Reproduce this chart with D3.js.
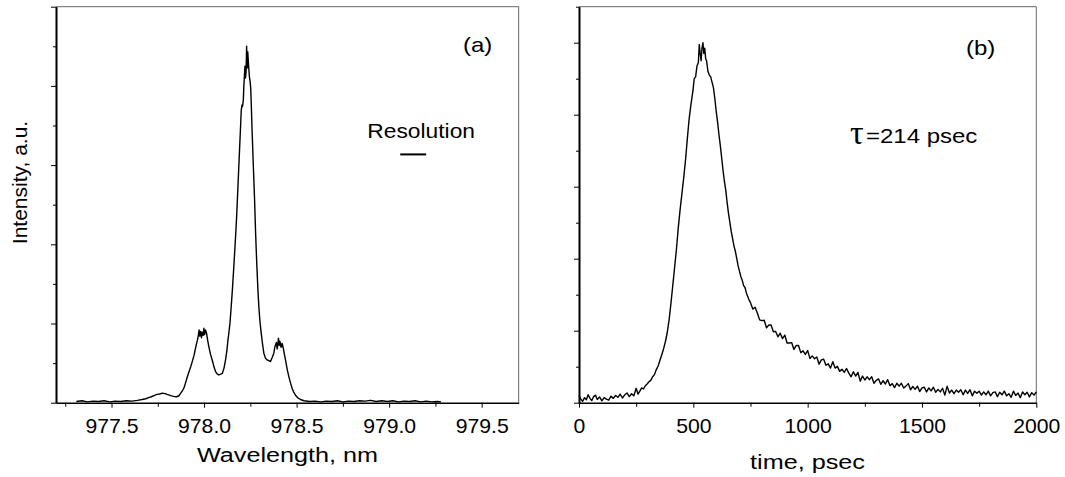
<!DOCTYPE html>
<meta charset="utf-8">
<style>
body { margin: 0; background: #fff; }
svg { display: block; font-family: "Liberation Sans", Arial, sans-serif; }
.trace { fill: none; stroke: #000; stroke-width: 1.4px; stroke-linejoin: round; }
.axis path, .axis line { stroke: #000; }
.axis path { stroke-width: 1.6px; }
.frame { stroke: #666; stroke-width: 1px; }
</style>
<svg width="1065" height="477"></svg>
<script src="https://d3js.org/d3.v7.min.js"></script>
<script>

// (a) spectrum: wavelength (nm), intensity (a.u.)
var spectrum = [
  [977.31,0.03],[977.34,0.05],[977.37,0.02],[977.40,0.04],[977.43,0.03],[977.46,0.05],[977.49,0.02],
  [977.52,0.04],[977.55,0.03],[977.58,0.05],[977.61,0.04],[977.64,0.06],[977.665,0.08],[977.685,0.10],
  [977.70,0.13],[977.715,0.15],[977.73,0.18],[977.745,0.21],[977.76,0.22],[977.775,0.24],[977.79,0.23],
  [977.80,0.21],[977.82,0.18],[977.835,0.16],[977.85,0.15],[977.863,0.17],[977.874,0.24],[977.885,0.32],
  [977.892,0.38],[977.90,0.50],[977.91,0.66],[977.92,0.80],[977.928,0.91],[977.937,1.05],[977.946,1.20],
  [977.955,1.40],[977.964,1.58],[977.970,1.72],[977.973,1.84],[977.977,1.68],[977.982,1.80],[977.986,1.64],
  [977.990,1.78],[977.995,1.70],[977.999,1.88],[978.003,1.72],[978.008,1.84],[978.014,1.74],[978.020,1.56],
  [978.026,1.41],[978.035,1.22],[978.045,1.06],[978.055,0.88],[978.063,0.78],[978.072,0.72],[978.080,0.70],
  [978.090,0.72],[978.099,0.74],[978.108,0.88],[978.116,1.08],[978.123,1.30],[978.129,1.58],[978.135,1.80],
  [978.140,2.01],[978.147,2.45],[978.153,2.85],[978.159,3.30],[978.165,3.77],[978.171,4.25],[978.176,4.70],
  [978.183,5.45],[978.189,6.10],[978.194,6.63],[978.198,7.05],[978.201,7.39],[978.205,7.52],[978.208,7.48],
  [978.212,7.64],[978.215,8.00],[978.218,8.25],[978.221,8.50],[978.224,8.20],[978.227,8.35],[978.230,9.00],
  [978.233,8.45],[978.236,8.86],[978.240,8.55],[978.245,8.23],[978.249,8.10],[978.252,7.95],[978.256,7.40],
  [978.260,6.80],[978.266,6.00],[978.273,5.12],[978.278,4.35],[978.284,3.60],[978.290,2.95],[978.296,2.42],
  [978.302,2.05],[978.309,1.75],[978.316,1.48],[978.323,1.25],[978.332,1.12],[978.341,1.08],[978.350,1.06],
  [978.359,1.04],[978.368,1.14],[978.377,1.25],[978.382,1.40],[978.386,1.46],[978.391,1.52],[978.395,1.36],
  [978.398,1.45],[978.402,1.63],[978.406,1.45],[978.410,1.55],[978.416,1.40],[978.422,1.50],[978.428,1.38],
  [978.434,1.22],[978.440,1.08],[978.449,0.85],[978.458,0.66],[978.467,0.50],[978.476,0.36],[978.485,0.26],
  [978.494,0.19],[978.505,0.13],[978.521,0.08],[978.54,0.05],[978.57,0.03],[978.60,0.04],[978.63,0.02],
  [978.66,0.04],[978.69,0.03],[978.72,0.05],[978.75,0.02],[978.78,0.04],[978.81,0.03],[978.84,0.05],
  [978.87,0.04],[978.90,0.06],[978.93,0.03],[978.96,0.05],[978.99,0.03],[979.02,0.05],[979.05,0.02],
  [979.08,0.04],[979.11,0.03],[979.14,0.05],[979.17,0.02],[979.20,0.04],[979.23,0.02],[979.26,0.03],
  [979.28,0.02]
];

// (b) time trace: time (psec), intensity (a.u.)
var decay = [
  [0,0.20],[8,0.10],[16,0.04],[24,0.14],[32,0.08],[40,0.22],[48,0.12],[56,0.06],[64,0.17],[72,0.21],
  [80,0.09],[90,0.16],[100,0.05],[110,0.14],[120,0.10],[130,0.07],[140,0.18],[150,0.12],[160,0.20],
  [170,0.15],[180,0.24],[190,0.13],[200,0.22],[210,0.27],[220,0.17],[230,0.25],[240,0.19],[250,0.40],
  [258,0.24],[266,0.32],[274,0.41],[282,0.38],[290,0.47],[298,0.52],[306,0.58],[314,0.62],[322,0.72],
  [330,0.78],[338,0.92],[346,1.02],[354,1.18],[362,1.33],[370,1.50],[378,1.70],[386,1.95],[394,2.30],
  [402,2.75],[410,3.25],[418,3.75],[426,4.25],[434,4.85],[442,5.35],[450,5.80],[458,6.25],[466,6.75],
  [474,7.35],[482,7.90],[490,8.30],[498,8.65],[504,9.00],[510,9.05],[516,9.35],[522,9.45],[526,9.95],
  [530,9.70],[534,9.50],[538,9.85],[542,10.0],[546,9.70],[550,9.85],[554,9.55],[558,9.50],[564,9.20],
  [570,9.10],[576,9.05],[582,8.90],[588,8.75],[594,8.45],[600,8.10],[606,7.80],[612,7.45],[618,7.15],
  [624,6.80],[630,6.45],[636,6.15],[642,5.90],[648,5.55],[654,5.25],[660,5.00],[666,4.75],[672,4.55],
  [678,4.35],[684,4.20],[690,4.00],[696,3.80],[702,3.65],[708,3.50],[714,3.40],[720,3.25],[726,3.20],
  [732,3.05],[738,2.95],[744,2.85],[750,2.78],[760,2.60],[770,2.65],[780,2.49],[790,2.30],[800,2.28],
  [810,2.29],[820,2.08],[830,2.16],[840,2.16],[850,1.97],[860,1.98],[870,1.83],[880,1.93],[890,1.78],
  [900,1.88],[910,1.66],[920,1.66],[930,1.67],[940,1.48],[950,1.59],[960,1.59],[970,1.39],[980,1.44],
  [990,1.34],[1000,1.45],[1010,1.23],[1020,1.30],[1030,1.22],[1040,1.27],[1050,1.07],[1060,1.19],
  [1070,1.21],[1080,1.04],[1090,1.08],[1100,0.96],[1110,1.14],[1120,0.96],[1130,1.01],[1140,0.87],
  [1150,0.93],[1160,0.84],[1170,0.95],[1180,0.82],[1190,0.72],[1200,0.86],[1210,0.74],[1220,0.84],
  [1230,0.60],[1240,0.74],[1250,0.63],[1260,0.72],[1270,0.64],[1280,0.72],[1290,0.54],[1300,0.62],
  [1310,0.66],[1320,0.51],[1330,0.61],[1340,0.52],[1350,0.64],[1360,0.47],[1370,0.53],[1380,0.42],
  [1390,0.54],[1400,0.46],[1410,0.54],[1420,0.41],[1430,0.46],[1440,0.53],[1450,0.36],[1460,0.45],
  [1470,0.37],[1480,0.46],[1490,0.31],[1500,0.41],[1510,0.43],[1520,0.30],[1530,0.41],[1540,0.33],
  [1550,0.43],[1560,0.29],[1570,0.37],[1580,0.30],[1590,0.40],[1600,0.21],[1610,0.46],[1620,0.27],
  [1630,0.35],[1640,0.25],[1650,0.35],[1660,0.29],[1670,0.36],[1680,0.22],[1690,0.35],[1700,0.26],
  [1710,0.36],[1720,0.19],[1730,0.32],[1740,0.26],[1750,0.32],[1760,0.21],[1770,0.30],[1780,0.22],
  [1790,0.32],[1800,0.19],[1810,0.28],[1820,0.30],[1830,0.17],[1840,0.29],[1850,0.22],[1860,0.32],
  [1870,0.19],[1880,0.25],[1890,0.15],[1900,0.32],[1910,0.20],[1920,0.27],[1930,0.14],[1940,0.30],
  [1950,0.22],[1960,0.29],[1970,0.16],[1980,0.28],[1990,0.21],[2000,0.30]
];

var wlTicks = [977.5, 978.0, 978.5, 979.0, 979.5];
var wlMinor = [977.25, 977.75, 978.25, 978.75, 979.25];
var tTicks = [0, 500, 1000, 1500, 2000];
var tMinor = [250, 750, 1250, 1750];
var resolutionBar = [979.06, 979.20];   // wavelength span of the resolution marker
var resolutionLevel = 6.27;

var svg = d3.select("svg");
var plotTop = 6.7, plotBottom = 402.7;

// stretched text, like the original figure
function label(x, y, txt, size, anchor, sx) {
  return svg.append("text")
      .attr("transform", "translate(" + x + "," + y + ") scale(" + sx + ",1)")
      .attr("text-anchor", anchor)
      .style("font-size", size + "px")
      .attr("fill", "#000")
      .text(txt);
}

function panel(left, right, xDomain, yMax, data, majors, minors, fmt) {
  var x = d3.scaleLinear().domain(xDomain).range([left, right]),
      y = d3.scaleLinear().domain([0, yMax]).range([plotBottom, plotTop]);

  // thin top/right frame
  svg.append("line").attr("class", "frame")
      .attr("x1", left).attr("x2", right).attr("y1", plotTop).attr("y2", plotTop);
  svg.append("line").attr("class", "frame")
      .attr("x1", right).attr("x2", right).attr("y1", plotTop).attr("y2", plotBottom);

  var ax = svg.append("g").attr("class", "axis")
      .attr("transform", "translate(0," + plotBottom + ")")
      .call(d3.axisBottom(x).tickValues(majors).tickSize(5).tickSizeOuter(0).tickFormat(fmt));
  ax.selectAll("text")
      .attr("y", 30.5).attr("dy", 0)
      .attr("transform", "scale(1.06,1)")
      .style("font-size", "20px").style("font-family", "Liberation Sans, Arial, sans-serif");
  svg.append("g").attr("class", "axis")
      .attr("transform", "translate(0," + plotBottom + ")")
      .call(d3.axisBottom(x).tickValues(minors).tickSize(4).tickSizeOuter(0).tickFormat(""))
      .select(".domain").remove();

  var yTicks = d3.range(0, yMax + 1);
  svg.append("g").attr("class", "axis")
      .attr("transform", "translate(" + left + ",0)")
      .call(d3.axisLeft(y).tickValues(yTicks.filter(function(d) { return d % 2 === 0; }))
        .tickSize(5).tickSizeOuter(0).tickFormat(""));
  svg.append("g").attr("class", "axis")
      .attr("transform", "translate(" + left + ",0)")
      .call(d3.axisLeft(y).tickValues(yTicks.filter(function(d) { return d % 2 === 1; }))
        .tickSize(3).tickSizeOuter(0).tickFormat(""));

  svg.append("path")
      .datum(data)
      .attr("class", "trace")
      .attr("d", d3.line().x(function(d) { return x(d[0]); }).y(function(d) { return y(d[1]); }));

  return {x: x, y: y};
}

var a = panel(56, 518.7, [977.2, 979.7], 10, spectrum, wlTicks, wlMinor, d3.format(".1f"));
var b = panel(579, 1036.3, [0, 2000], 11, decay, tTicks, tMinor, d3.format("d"));

// resolution marker
svg.append("line")
    .attr("x1", a.x(resolutionBar[0])).attr("x2", a.x(resolutionBar[1]))
    .attr("y1", a.y(resolutionLevel)).attr("y2", a.y(resolutionLevel))
    .attr("stroke", "#000").attr("stroke-width", 2);

label(475, 138, "Resolution", 20, "end", 1.14);
label(463, 52, "(a)", 20, "start", 1.2);
label(966, 55, "(b)", 20, "start", 1.2);
svg.append("text")
    .attr("x", 850).attr("y", 144)
    .style("font-size", "34px").style("font-family", "Liberation Serif, serif")
    .text("τ");
label(866, 143, "=214 psec", 20, "start", 1.2);

label(287.5, 462, "Wavelength, nm", 21, "middle", 1.2);
label(807.5, 469, "time, psec", 21, "middle", 1.2);

svg.append("text")
    .attr("transform", "translate(26.5,182.5) rotate(-90)")
    .attr("text-anchor", "middle")
    .style("font-size", "21px")
    .text("Intensity, a.u.");

</script>
